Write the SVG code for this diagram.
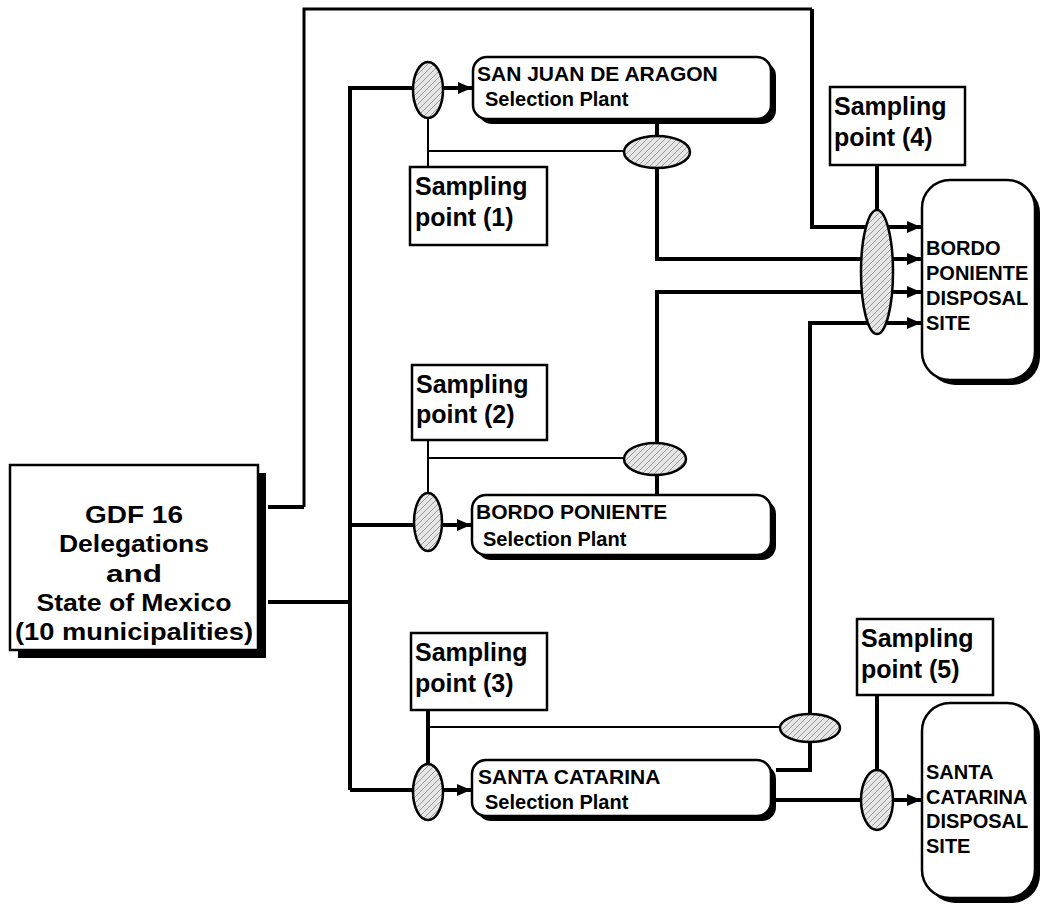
<svg xmlns="http://www.w3.org/2000/svg" width="1042" height="909" viewBox="0 0 1042 909">
<style>
.thick{fill:none;stroke:#000;stroke-width:4}
.mid{fill:none;stroke:#000;stroke-width:3}
.thin{fill:none;stroke:#000;stroke-width:2}
.box{fill:#fff;stroke:#000;stroke-width:2.5}
.shadow{fill:#000}
.ell{fill:url(#stip);stroke:#000;stroke-width:2.5}
.t{font-family:"Liberation Sans",Arial,sans-serif;font-weight:bold;fill:#000}
.samp{font-size:25px}
.plant{font-size:21px}
.sel{font-size:20px}
.disp{font-size:20px}
.gdf{font-size:23px;text-anchor:middle}
</style>
<defs>
<pattern id="stip" width="6" height="6" patternUnits="userSpaceOnUse">
<rect width="6" height="6" fill="#e6e6e6"/>
<path d="M0,6 L6,0" stroke="#9a9a9a" stroke-width="1"/>
</pattern>
<marker id="arr" markerUnits="userSpaceOnUse" viewBox="0 0 14 12" refX="14" refY="6" markerWidth="14" markerHeight="12" orient="auto">
<path d="M0,0 L14,6 L0,12 z" fill="#000"/>
</marker>
</defs>
<rect width="1042" height="909" fill="#fff"/>

<g id="connectors">
<path class="mid" d="M304,507 V9 H812"/>
<path class="thick" d="M268,507 H304 M812,9 V227 H921" marker-end="url(#arr)"/>
<path class="thick" d="M268,602 H350"/>
<path class="thick" d="M350,790 V88 H472" marker-end="url(#arr)"/>
<path class="thick" d="M350,525 H471" marker-end="url(#arr)"/>
<path class="thick" d="M350,790 H471" marker-end="url(#arr)"/>
<path class="thick" d="M657,120 V259 H921" marker-end="url(#arr)"/>
<path class="thick" d="M657,495 V292 H921" marker-end="url(#arr)"/>
<path class="thick" d="M776,770 H810 V323 H921" marker-end="url(#arr)"/>
<path class="thick" d="M776,800 H921" marker-end="url(#arr)"/>
<path class="thin" d="M428,118 V167 M428,151 H625"/>
<path class="thin" d="M428,440 V494 M428,458 H624"/>
<path class="thick" d="M428,710 V765"/>
<path class="thin" d="M428,727 H781"/>
<path class="thick" d="M877,165 V211"/>
<path class="thick" d="M877,695 V771"/>
</g>

<g id="gdf">
<rect class="shadow" x="18" y="473" width="248" height="185"/>
<rect class="box" x="10" y="465" width="248" height="185"/>
<text class="t gdf" x="134" y="523" textLength="98" lengthAdjust="spacingAndGlyphs">GDF 16</text>
<text class="t gdf" x="134" y="552" textLength="150" lengthAdjust="spacingAndGlyphs">Delegations</text>
<text class="t gdf" x="134" y="582" textLength="56" lengthAdjust="spacingAndGlyphs">and</text>
<text class="t gdf" x="134" y="611" textLength="195" lengthAdjust="spacingAndGlyphs">State of Mexico</text>
<text class="t gdf" x="134" y="640" textLength="238" lengthAdjust="spacingAndGlyphs">(10 municipalities)</text>
</g>

<g id="sanjuan-plant">
<rect class="shadow" x="478" y="62" width="298" height="62" rx="14"/>
<rect class="box" x="473" y="57" width="298" height="62" rx="14"/>
<text class="t plant" x="477" y="81" font-size="20">SAN JUAN DE ARAGON</text>
<text class="t sel" x="485" y="106">Selection Plant</text>
</g>

<g id="bordo-plant">
<rect class="shadow" x="477" y="500" width="299" height="60" rx="14"/>
<rect class="box" x="472" y="495" width="299" height="60" rx="14"/>
<text class="t plant" x="476" y="519" font-size="22.5">BORDO PONIENTE</text>
<text class="t sel" x="483" y="546">Selection Plant</text>
</g>

<g id="santa-plant">
<rect class="shadow" x="477" y="765" width="299" height="56" rx="14"/>
<rect class="box" x="472" y="760" width="299" height="56" rx="14"/>
<text class="t plant" x="478" y="784" font-size="22.5">SANTA CATARINA</text>
<text class="t sel" x="485" y="809">Selection Plant</text>
</g>

<g id="bordo-disposal">
<rect class="shadow" x="927" y="185" width="113" height="200" rx="28"/>
<rect class="box" x="922" y="180" width="113" height="200" rx="28"/>
<text class="t disp" x="926" y="255">BORDO</text>
<text class="t disp" x="926" y="280">PONIENTE</text>
<text class="t disp" x="926" y="305">DISPOSAL</text>
<text class="t disp" x="926" y="330">SITE</text>
</g>

<g id="santa-disposal">
<rect class="shadow" x="927" y="708" width="113" height="195" rx="28"/>
<rect class="box" x="922" y="703" width="113" height="195" rx="28"/>
<text class="t disp" x="926" y="779">SANTA</text>
<text class="t disp" x="926" y="804">CATARINA</text>
<text class="t disp" x="926" y="828">DISPOSAL</text>
<text class="t disp" x="926" y="853">SITE</text>
</g>

<g id="sampling-1">
<rect class="box" x="410" y="167" width="137" height="78"/>
<text class="t samp" x="415" y="195">Sampling</text>
<text class="t samp" x="415" y="226">point (1)</text>
</g>
<g id="sampling-2">
<rect class="box" x="412" y="365" width="135" height="75"/>
<text class="t samp" x="416" y="393">Sampling</text>
<text class="t samp" x="416" y="423">point (2)</text>
</g>
<g id="sampling-3">
<rect class="box" x="411" y="633" width="136" height="77"/>
<text class="t samp" x="415" y="661">Sampling</text>
<text class="t samp" x="415" y="692">point (3)</text>
</g>
<g id="sampling-4">
<rect class="box" x="830" y="87" width="135" height="78"/>
<text class="t samp" x="834" y="115">Sampling</text>
<text class="t samp" x="834" y="146">point (4)</text>
</g>
<g id="sampling-5">
<rect class="box" x="857" y="619" width="136" height="76"/>
<text class="t samp" x="861" y="647">Sampling</text>
<text class="t samp" x="861" y="678">point (5)</text>
</g>

<g id="ellipses">
<ellipse id="e-sj-in" class="ell" cx="428" cy="90" rx="15" ry="28"/>
<ellipse id="e-bp-in" class="ell" cx="428" cy="522" rx="14" ry="29"/>
<ellipse id="e-sc-in" class="ell" cx="428" cy="792" rx="15" ry="28"/>
<ellipse id="e-sj-out" class="ell" cx="657" cy="152" rx="33" ry="16"/>
<ellipse id="e-bp-out" class="ell" cx="655" cy="459" rx="31" ry="16"/>
<ellipse id="e-sc-out" class="ell" cx="810" cy="728" rx="30" ry="14"/>
<ellipse id="e-bp-disp" class="ell" cx="877" cy="272" rx="16" ry="62"/>
<ellipse id="e-sc-disp" class="ell" cx="877" cy="800" rx="16" ry="30"/>
</g>
</svg>
